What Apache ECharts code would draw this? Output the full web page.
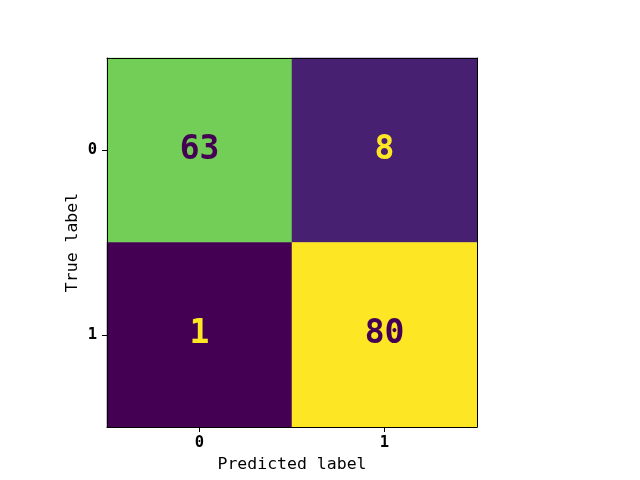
<!DOCTYPE html>
<html>
<head>
<meta charset="utf-8">
<script src="https://cdn.jsdelivr.net/npm/echarts@6/dist/echarts.min.js"></script>
<style>
  html, body { margin: 0; padding: 0; background: #fff; }
  #chart { width: 640px; height: 480px; }
</style>
</head>
<body>
<div id="chart"></div>
<script>
const predictedLabels = ['0', '1'];
const trueLabels = ['0', '1'];
// rows = true label, columns = predicted label
const matrix = [
    [63, 8],
    [1, 80]
];

const viridis = ['#440154', '#482475', '#414487', '#355f8d', '#2a788e', '#21918c',
    '#22a884', '#44bf70', '#7ad151', '#bddf26', '#fde725'];

const flat = matrix.flat();
const vMin = Math.min(...flat);
const vMax = Math.max(...flat);
const mid = (vMin + vMax) / 2;

const cells = [];
matrix.forEach((row, i) => {
    row.forEach((v, j) => {
        cells.push({
            value: [j, i, v],
            label: { color: v < mid ? '#fde725' : '#440154' }
        });
    });
});

const mono = 'DejaVu Sans Mono';
const chart = echarts.init(document.getElementById('chart'), null, { renderer: 'canvas' });

const frameAxis = {
    z: 10,
    axisLine: { show: true, lineStyle: { color: '#000', width: 1 } },
    axisTick: { show: false },
    axisLabel: { show: false },
    splitLine: { show: false }
};

chart.setOption({
    animation: false,
    grid: { left: 107, right: 163, top: 58, bottom: 53 },
    xAxis: [
        {
            type: 'category',
            data: predictedLabels,
            z: 10,
            name: 'Predicted label',
            nameLocation: 'middle',
            nameGap: 28,
            nameTextStyle: { fontFamily: mono, fontSize: 16.5, color: '#000' },
            axisLine: { show: true, lineStyle: { color: '#000', width: 1 } },
            axisTick: { show: true, alignWithLabel: true, length: 5, lineStyle: { color: '#000' } },
            axisLabel: { fontFamily: mono, fontWeight: 'bold', fontSize: 15.5, color: '#000', margin: 8 },
            splitLine: { show: false }
        },
        Object.assign({ type: 'category', data: predictedLabels, position: 'top' }, frameAxis)
    ],
    yAxis: [
        {
            type: 'category',
            data: trueLabels,
            inverse: true,
            z: 10,
            name: 'True label',
            nameLocation: 'middle',
            nameGap: 26,
            nameMoveOverlap: false,
            nameRotate: 90,
            nameTextStyle: { fontFamily: mono, fontSize: 16.5, color: '#000' },
            axisLine: { show: true, lineStyle: { color: '#000', width: 1 } },
            axisTick: { show: true, alignWithLabel: true, length: 5, lineStyle: { color: '#000' } },
            axisLabel: { fontFamily: mono, fontWeight: 'bold', fontSize: 15.5, color: '#000', margin: 10 },
            splitLine: { show: false }
        },
        Object.assign({ type: 'category', data: trueLabels, inverse: true, position: 'right' }, frameAxis)
    ],
    visualMap: {
        show: false,
        min: vMin,
        max: vMax,
        dimension: 2,
        inRange: { color: viridis }
    },
    series: [
        {
            type: 'heatmap',
            data: cells,
            label: {
                show: true,
                fontFamily: mono,
                fontWeight: 'bold',
                fontSize: 33
            },
            itemStyle: { borderWidth: 0 },
            emphasis: { disabled: true }
        }
    ]
});
</script>
</body>
</html>
